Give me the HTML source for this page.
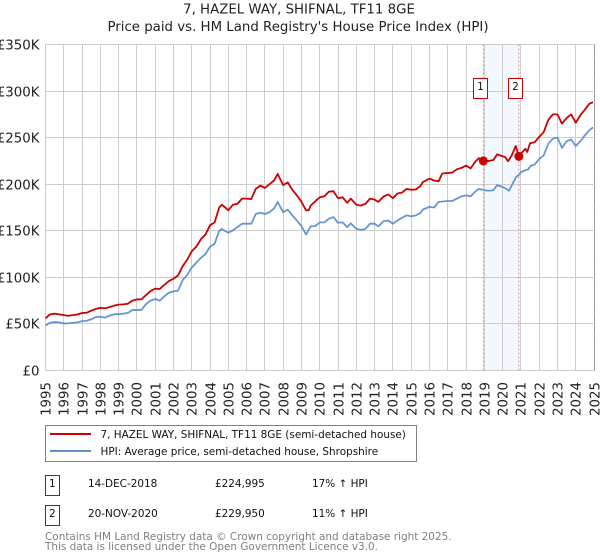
<!DOCTYPE html>
<html lang="en">
<head>
<meta charset="utf-8">
<title>7, HAZEL WAY, SHIFNAL, TF11 8GE</title>
<style>
html,body{margin:0;padding:0;background:#fff;}
svg{display:block;font-family:"DejaVu Sans","Liberation Sans",sans-serif;}
</style>
</head>
<body>
<svg id="chart" xmlns="http://www.w3.org/2000/svg" width="600" height="560" viewBox="0 0 600 560">
  <rect x="0" y="0" width="600" height="560" fill="#fff"/>
  <text x="299" y="13.5" font-size="13.33" text-anchor="middle" fill="#222">7, HAZEL WAY, SHIFNAL, TF11 8GE</text>
  <text x="298" y="31" font-size="13.33" text-anchor="middle" fill="#222">Price paid vs. HM Land Registry's House Price Index (HPI)</text>
  <g id="band-layer"></g>
  <g id="grid-layer"></g>
  <g id="series-layer"></g>
  <g id="label-layer"></g>
  <g id="annotation-layer"></g>

  <g>
    <rect x="45.5" y="425.5" width="371" height="36" fill="#fff" stroke="#808080" stroke-width="1"/>
    <line x1="50" x2="91" y1="434" y2="434" stroke="#cc0000" stroke-width="2"/>
    <text x="100.5" y="438" font-size="10.45" fill="#111">7, HAZEL WAY, SHIFNAL, TF11 8GE (semi-detached house)</text>
    <line x1="50" x2="91" y1="451" y2="451" stroke="#5f8fd0" stroke-width="2"/>
    <text x="100.5" y="455" font-size="10.45" fill="#111">HPI: Average price, semi-detached house, Shropshire</text>
  </g>

  <g>
    <rect x="45.5" y="475.5" width="14" height="20" fill="#fff" stroke="#cc0000" stroke-width="1"/>
    <text x="52.3" y="487" font-size="10.45" text-anchor="middle" fill="#111">1</text>
    <text x="88" y="487" font-size="10.45" fill="#111">14-DEC-2018</text>
    <text x="215" y="487" font-size="10.45" fill="#111">£224,995</text>
    <text x="312" y="487" font-size="10.45" fill="#111">17% ↑ HPI</text>
  </g>
  <g>
    <rect x="45.5" y="505.5" width="14" height="20" fill="#fff" stroke="#cc0000" stroke-width="1"/>
    <text x="52.3" y="517" font-size="10.45" text-anchor="middle" fill="#111">2</text>
    <text x="88" y="517" font-size="10.45" fill="#111">20-NOV-2020</text>
    <text x="215" y="517" font-size="10.45" fill="#111">£229,950</text>
    <text x="312" y="517" font-size="10.45" fill="#111">11% ↑ HPI</text>
  </g>

  <text x="45" y="540" font-size="10.46" fill="#808080">Contains HM Land Registry data © Crown copyright and database right 2025.</text>
  <text x="45" y="550" font-size="10.46" fill="#808080">This data is licensed under the Open Government Licence v3.0.</text>
</svg>

<script>
const yearTicks = [1995,1996,1997,1998,1999,2000,2001,2002,2003,2004,2005,2006,2007,2008,2009,2010,2011,2012,2013,2014,2015,2016,2017,2018,2019,2020,2021,2022,2023,2024,2025];
const valueTicks = [0,50,100,150,200,250,300,350];
const valueTickLabels = ["£0","£50K","£100K","£150K","£200K","£250K","£300K","£350K"];
const saleDates = [2018.95,2020.89];
const salePrices = [224.995,229.95];
const saleLabels = ["1","2"];

const propertyDates = [1995,1995.25,1995.5,1995.75,1996,1996.25,1996.5,1996.75,1997,1997.25,1997.5,1997.75,1998,1998.25,1998.5,1998.75,1999,1999.25,1999.5,1999.75,2000,2000.25,2000.5,2000.75,2001,2001.25,2001.5,2001.75,2002,2002.25,2002.5,2002.75,2003,2003.25,2003.5,2003.75,2004,2004.25,2004.5,2004.65,2005,2005.25,2005.5,2005.75,2006,2006.25,2006.5,2006.75,2007,2007.25,2007.5,2007.7,2008,2008.25,2008.5,2008.75,2009,2009.25,2009.4,2009.5,2009.75,2010,2010.25,2010.5,2010.75,2011,2011.25,2011.5,2011.7,2012,2012.25,2012.5,2012.75,2013,2013.2,2013.5,2013.75,2014,2014.25,2014.5,2014.75,2015,2015.25,2015.5,2015.65,2016,2016.25,2016.5,2016.7,2017,2017.25,2017.5,2017.75,2018,2018.25,2018.5,2018.7,2018.95,2019.25,2019.5,2019.7,2020,2020.15,2020.3,2020.5,2020.72,2020.89,2021,2021.25,2021.35,2021.5,2021.75,2022,2022.25,2022.5,2022.75,2023,2023.25,2023.5,2023.75,2024,2024.25,2024.5,2024.75,2024.95];
const propertyValues = [56,60.3,61,60.3,59.5,58.8,59.5,60.3,61.7,62,64.2,66,67.4,66.7,68,69.6,70.7,71,71.7,75,76.4,76.4,81,85.4,87.9,87.5,92,96,98.6,102,112,119,128,133,141,146,156,159,175,178,172,178,179,184.5,184.5,184,195,198.5,196,200,204,211,199,202,194,188,181,172,172,177,181.6,186,187,192,192.5,185,186,180,184.5,178,177,179,184.5,183.5,181,187,189,185,190,191,195,194,194.3,198,202.5,206,204,203,211.5,212,212.5,216,217.5,220,217,224,228,225,225,226,232,230,229,224.6,231,241,230,233,238,234.6,244,245,250.7,256,269,275,275,265,271,275,266,274,280,286.5,288];

const hpiDates = [1995,1995.25,1995.5,1995.75,1996,1996.25,1996.5,1996.75,1997,1997.25,1997.5,1997.75,1998,1998.25,1998.5,1998.75,1999,1999.25,1999.5,1999.75,2000,2000.25,2000.5,2000.75,2001,2001.25,2001.5,2001.75,2002,2002.25,2002.5,2002.75,2003,2003.5,2003.75,2004,2004.25,2004.5,2004.62,2005,2005.25,2005.5,2005.75,2006,2006.25,2006.5,2006.75,2007,2007.25,2007.5,2007.7,2008,2008.25,2008.5,2008.75,2009,2009.25,2009.5,2009.75,2010,2010.25,2010.5,2010.75,2011,2011.25,2011.5,2011.7,2012,2012.25,2012.5,2012.75,2013,2013.2,2013.5,2013.75,2014,2014.25,2014.5,2014.75,2015,2015.25,2015.5,2015.65,2016,2016.25,2016.5,2017,2017.25,2017.5,2017.75,2018,2018.25,2018.5,2018.7,2019,2019.25,2019.5,2019.7,2020,2020.2,2020.35,2020.55,2020.75,2020.9,2021,2021.25,2021.4,2021.55,2021.75,2022,2022.25,2022.5,2022.75,2023,2023.25,2023.5,2023.75,2024,2024.25,2024.5,2024.75,2024.95];
const hpiValues = [48.4,51.3,52,51.7,50.6,50.6,51.3,51.7,53,53.4,55,57.4,57.7,56.7,58.8,60.3,60.6,61,61.7,65,65,65,71.4,75,76.8,75,79.6,83.6,85,85.7,97,102.6,110.5,121,125,133,136,150,152,148,150.4,154,157.6,157.6,157.6,168,169.4,168,170,174,181,170,172.7,166.5,161,155,146,154.7,155,159,159,163,164.7,158.6,159,154,158,152,151,152,157.6,157.6,154.7,160.4,161,157.6,161,164,166.5,165.5,166.5,169,173,175.7,175,181,182,182,184.6,187,188,187,192,195,193.5,193,193.5,199,197,195,193,200.6,208,210,213,215,216,220,221,227,231,243.5,249,250,239,246,248,241,246,252.5,258,261];

const plotLeft = 45.5, plotRight = 594, plotTop = 44.5, plotBottom = 370.5;
const minYear = 1995, maxYear = 2025, maxValue = 350;
const NS = "http://www.w3.org/2000/svg";

function xScale(year) {
  return plotLeft + (year - minYear) / (maxYear - minYear) * (plotRight - plotLeft);
}
function yScale(value) {
  return plotBottom - value / maxValue * (plotBottom - plotTop);
}
function make(tag, parent, attrs) {
  const el = document.createElementNS(NS, tag);
  for (const k in attrs) el.setAttribute(k, attrs[k]);
  parent.appendChild(el);
  return el;
}
function linePath(dates, values) {
  return dates.map((d, i) => (i ? "L" : "M") + xScale(d).toFixed(2) + " " + yScale(values[i]).toFixed(2)).join(" ");
}

const bandLayer = document.getElementById("band-layer");
const gridLayer = document.getElementById("grid-layer");
const seriesLayer = document.getElementById("series-layer");
const labelLayer = document.getElementById("label-layer");
const annotationLayer = document.getElementById("annotation-layer");

const band = make("rect", bandLayer, {x: xScale(saleDates[0]), y: plotTop, width: xScale(saleDates[1]) - xScale(saleDates[0]), height: plotBottom - plotTop, fill: "#f3f7fe"});



yearTicks.forEach(function (yr) {
  const x = Math.round(xScale(yr) - 0.5) + 0.5;
  const g = make("line", gridLayer, {x1: x, x2: x, y1: plotTop, y2: plotBottom, stroke: yr === 2025 ? "#999" : "#ccc", "stroke-width": 1});
  
  
  const t = make("text", labelLayer, {transform: "translate(" + (x + 5) + ",382) rotate(-90)", "font-size": 13.33, "text-anchor": "end", fill: "#222"});
  
  
  t.textContent = String(yr);
});

valueTicks.forEach(function (v, i) {
  const y = Math.round(yScale(v) - 0.5) + 0.5;
  const g = make("line", gridLayer, {x1: plotLeft, x2: plotRight, y1: y, y2: y, stroke: "#ccc", "stroke-width": 1});
  
  
  const t = make("text", labelLayer, {x: 39.5, y: y + 5, "font-size": 13.33, "text-anchor": "end", fill: "#222"});
  
  
  t.textContent = valueTickLabels[i];
});

for (let v = 0; v <= maxValue; v += 12.5) {
  const y = Math.round(yScale(v) - 0.5) + 0.5;
  const m = make("line", gridLayer, {x1: plotRight, x2: plotRight + 1.5, y1: y, y2: y, stroke: "#ccc", "stroke-width": 1});
  
  
}

const hpiLine = make("path", seriesLayer, {d: linePath(hpiDates, hpiValues), fill: "none", stroke: "#5f8fd0", "stroke-width": 1.8, "stroke-linejoin": "round", "stroke-opacity": 0.95});



const propertyLine = make("path", seriesLayer, {d: linePath(propertyDates, propertyValues), fill: "none", stroke: "#cc0000", "stroke-width": 1.8, "stroke-linejoin": "round"});



saleDates.forEach(function (d, i) {
  const x = xScale(d);
  const dash = make("line", annotationLayer, {x1: x, x2: x, y1: plotTop, y2: plotBottom, stroke: "#f08088", "stroke-width": 1, "stroke-dasharray": "2 2"});
  
  
  const dot = make("circle", annotationLayer, {cx: x, cy: yScale(salePrices[i]), r: 4.5, fill: "#cc0000"});
  
  
  const box = make("rect", annotationLayer, {x: Math.round(x - 10.5) + 0.5, y: 78.5, width: 14, height: 20, fill: "#fff", stroke: "#cc0000", "stroke-width": 1});
  
  
  const num = make("text", annotationLayer, {x: Math.round(x - 10.5) + 7.5, y: 90, "font-size": 10.45, "text-anchor": "middle", fill: "#111"});
  
  
  num.textContent = saleLabels[i];
});
</script>
</body>
</html>
